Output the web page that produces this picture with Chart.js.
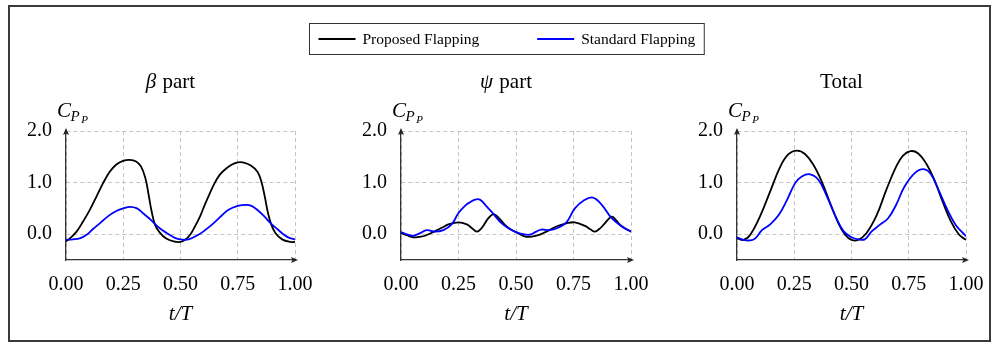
<!DOCTYPE html>
<html>
<head>
<meta charset="utf-8">
<script src="https://cdn.jsdelivr.net/npm/chart.js@4/dist/chart.umd.min.js"></script>
<style>
html,body{margin:0;padding:0;background:#fff;}
#wrap{position:relative;width:992px;height:342px;overflow:hidden;background:#fff;}
#wrap canvas{position:absolute;left:0;top:0;}
#frame{position:absolute;left:8px;top:5px;width:983px;height:337px;box-sizing:border-box;border:2px solid #3a3a3a;}
</style>
</head>
<body>
<div id="wrap">
  <div id="frame"></div>
  <canvas id="c1" width="992" height="342"></canvas>
  <canvas id="c2" width="992" height="342"></canvas>
  <canvas id="c3" width="992" height="342"></canvas>
</div>
<script>
// ---------- data ----------
const seriesNames = ['Proposed Flapping', 'Standard Flapping'];
const seriesColors = ['#000000', '#0000ff'];
const panelTitles = ['β part', 'ψ part', 'Total'];
const xAxisLabel = 't/T';
const yAxisLabelParts = ['C', 'P', 'P'];
const xTickValues = [0, 0.25, 0.5, 0.75, 1];
const xTickLabels = ['0.00', '0.25', '0.50', '0.75', '1.00'];
const yTickValues = [0, 1, 2];
const yTickLabels = ['0.0', '1.0', '2.0'];

// beta part
const betaProposedT = [0, 0.017, 0.046, 0.075, 0.104, 0.133, 0.162, 0.191, 0.22, 0.249, 0.277, 0.306, 0.328, 0.347, 0.361, 0.374, 0.389, 0.408, 0.436, 0.47, 0.5, 0.52, 0.542, 0.563, 0.585, 0.606, 0.628, 0.649, 0.671, 0.693, 0.721, 0.75, 0.772, 0.807, 0.836, 0.853, 0.868, 0.882, 0.897, 0.915, 0.944, 0.98, 1.0];
const betaProposedY = [-0.14, -0.08, 0.05, 0.25, 0.47, 0.73, 0.99, 1.21, 1.35, 1.42, 1.44, 1.41, 1.31, 1.08, 0.76, 0.44, 0.18, 0.04, -0.08, -0.14, -0.15, -0.11, -0.01, 0.15, 0.34, 0.57, 0.79, 0.99, 1.15, 1.25, 1.34, 1.39, 1.39, 1.33, 1.21, 1.02, 0.73, 0.41, 0.18, 0.02, -0.10, -0.15, -0.15];
const betaStandardT = [0, 0.03, 0.06, 0.09, 0.118, 0.15, 0.19, 0.22, 0.25, 0.28, 0.31, 0.335, 0.365, 0.393, 0.42, 0.451, 0.475, 0.5, 0.535, 0.578, 0.605, 0.636, 0.67, 0.708, 0.75, 0.787, 0.81, 0.836, 0.865, 0.894, 0.925, 0.952, 0.975, 1.0];
const betaStandardY = [-0.11, -0.10, -0.08, -0.01, 0.10, 0.22, 0.37, 0.45, 0.50, 0.53, 0.50, 0.41, 0.30, 0.18, 0.08, -0.01, -0.07, -0.10, -0.10, -0.01, 0.07, 0.18, 0.32, 0.47, 0.55, 0.57, 0.55, 0.47, 0.35, 0.21, 0.09, -0.01, -0.07, -0.10];

// psi part
const psiProposedT = [0, 0.025, 0.054, 0.08, 0.104, 0.148, 0.18, 0.206, 0.25, 0.286, 0.31, 0.33, 0.351, 0.38, 0.402, 0.424, 0.452, 0.474, 0.5, 0.545, 0.588, 0.632, 0.675, 0.719, 0.756, 0.8, 0.825, 0.843, 0.862, 0.88, 0.916, 0.935, 0.953, 0.975, 1.0];
const psiProposedY = [0.02, -0.02, -0.06, -0.05, -0.03, 0.06, 0.13, 0.19, 0.23, 0.19, 0.11, 0.05, 0.12, 0.31, 0.39, 0.32, 0.18, 0.10, 0.04, -0.05, -0.03, 0.05, 0.15, 0.21, 0.23, 0.16, 0.09, 0.05, 0.10, 0.18, 0.34, 0.27, 0.18, 0.11, 0.05];
const psiStandardT = [0, 0.03, 0.054, 0.083, 0.112, 0.148, 0.184, 0.22, 0.25, 0.278, 0.3, 0.322, 0.343, 0.372, 0.402, 0.438, 0.474, 0.5, 0.53, 0.56, 0.588, 0.61, 0.646, 0.68, 0.719, 0.756, 0.793, 0.834, 0.873, 0.916, 0.96, 1.0];
const psiStandardY = [0.04, -0.01, -0.03, 0.02, 0.08, 0.05, 0.08, 0.19, 0.41, 0.55, 0.62, 0.67, 0.67, 0.54, 0.39, 0.21, 0.10, 0.04, 0.0, -0.01, 0.05, 0.09, 0.08, 0.12, 0.23, 0.50, 0.65, 0.71, 0.57, 0.31, 0.15, 0.05];

// total
const totalProposedT = [0, 0.029, 0.058, 0.1, 0.145, 0.189, 0.225, 0.262, 0.298, 0.334, 0.37, 0.407, 0.443, 0.472, 0.5, 0.529, 0.565, 0.61, 0.652, 0.695, 0.724, 0.757, 0.79, 0.826, 0.862, 0.898, 0.934, 0.97, 1.0];
const totalProposedY = [-0.08, -0.11, -0.01, 0.34, 0.83, 1.31, 1.55, 1.62, 1.55, 1.34, 1.02, 0.60, 0.21, -0.01, -0.11, -0.11, 0.02, 0.37, 0.86, 1.31, 1.52, 1.61, 1.57, 1.37, 1.05, 0.63, 0.25, -0.01, -0.11];
const totalStandardT = [0, 0.029, 0.058, 0.08, 0.109, 0.145, 0.182, 0.218, 0.254, 0.283, 0.32, 0.356, 0.392, 0.43, 0.465, 0.5, 0.529, 0.558, 0.587, 0.623, 0.66, 0.695, 0.731, 0.775, 0.815, 0.847, 0.883, 0.919, 0.955, 1.0];
const totalStandardY = [-0.06, -0.11, -0.12, -0.08, 0.08, 0.19, 0.37, 0.66, 0.99, 1.12, 1.16, 1.05, 0.74, 0.35, 0.06, -0.06, -0.10, -0.10, 0.05, 0.18, 0.31, 0.57, 0.92, 1.18, 1.26, 1.16, 0.83, 0.47, 0.18, -0.04];

// ---------- rendering ----------
const FAMILY = '"Liberation Serif", "Times New Roman", serif';
Chart.defaults.font.family = FAMILY;
Chart.defaults.color = '#000';

function lookup(values, labels, v) {
  const i = values.findIndex(t => Math.abs(t - v) < 1e-9);
  return i >= 0 ? labels[i] : null;
}
function pts(T, Y) { return T.map((t, i) => ({x: t, y: Y[i]})); }

function drawTitle(ctx, text, cx, cy) {
  const greek = /^[α-ωΑ-Ω]/.test(text);
  const head = greek ? text[0] : '';
  const rest = greek ? text.slice(1) : text;
  ctx.textBaseline = 'alphabetic';
  ctx.textAlign = 'left';
  ctx.font = 'italic 21px ' + FAMILY;
  const w1 = head ? ctx.measureText(head).width + 1 : 0;
  ctx.font = '21px ' + FAMILY;
  const w2 = ctx.measureText(rest).width;
  let x = cx - (w1 + w2) / 2;
  if (head) { ctx.font = 'italic 21px ' + FAMILY; ctx.fillText(head, x, cy); x += w1; }
  ctx.font = '21px ' + FAMILY;
  ctx.fillText(rest, x, cy);
}

function decorPlugin(idx, withLegend) {
  return {
    id: 'decor' + idx,
    afterDraw(chart) {
      const {ctx, chartArea: a} = chart;
      ctx.save();
      ctx.fillStyle = '#222';
      // arrow on y axis
      ctx.beginPath();
      ctx.moveTo(a.left, a.top - 3);
      ctx.lineTo(a.left - 3, a.top + 4);
      ctx.lineTo(a.left, a.top + 2.5);
      ctx.lineTo(a.left + 3, a.top + 4);
      ctx.closePath();
      ctx.fill();
      // arrow on x axis
      ctx.beginPath();
      ctx.moveTo(a.right + 3, a.bottom);
      ctx.lineTo(a.right - 4, a.bottom - 3);
      ctx.lineTo(a.right - 2.5, a.bottom);
      ctx.lineTo(a.right - 4, a.bottom + 3);
      ctx.closePath();
      ctx.fill();
      // title
      ctx.fillStyle = '#000';
      drawTitle(ctx, panelTitles[idx], (a.left + a.right) / 2 - 10, 88);
      // y axis label C_{P_P}
      ctx.textAlign = 'left';
      ctx.textBaseline = 'alphabetic';
      let x = a.left - 9;
      ctx.font = 'italic 21px ' + FAMILY;
      ctx.fillText(yAxisLabelParts[0], x, 117);
      x += ctx.measureText(yAxisLabelParts[0]).width - 0.5;
      ctx.font = 'italic 15px ' + FAMILY;
      ctx.fillText(yAxisLabelParts[1], x, 120.5);
      x += ctx.measureText(yAxisLabelParts[1]).width + 1.5;
      ctx.font = 'italic 11px ' + FAMILY;
      ctx.fillText(yAxisLabelParts[2], x, 123);
      // legend
      if (withLegend) {
        const ds = chart.data.datasets;
        ctx.font = '15.5px ' + FAMILY;
        const lineLen = 37, gap = 7, itemGap = 58, margin = 9;
        const widths = ds.map(d => ctx.measureText(d.label).width);
        let inner = 0;
        widths.forEach((w, i) => { inner += lineLen + gap + w + (i < widths.length - 1 ? itemGap : 0); });
        const boxW = inner + 2 * margin;
        const cx = (a.left + a.right) / 2 - 10;
        const x0 = Math.round(cx - boxW / 2) + 0.5;
        const y0 = 23.5, h = 31;
        ctx.strokeStyle = '#333';
        ctx.lineWidth = 1;
        ctx.strokeRect(x0, y0, boxW, h);
        let lx = x0 + margin;
        const ly = y0 + h / 2;
        ctx.textBaseline = 'middle';
        ds.forEach((d, i) => {
          ctx.strokeStyle = d.borderColor;
          ctx.lineWidth = 1.8;
          ctx.beginPath();
          ctx.moveTo(lx, ly);
          ctx.lineTo(lx + lineLen, ly);
          ctx.stroke();
          ctx.fillStyle = '#000';
          ctx.fillText(d.label, lx + lineLen + gap, ly + 1);
          lx += lineLen + gap + widths[i] + itemGap;
        });
      }
      ctx.restore();
    }
  };
}

function makePanel(id, idx, proposed, standard, padL, padR, withLegend) {
  const tickFont = {size: 20, family: FAMILY};
  const lineStyle = {borderWidth: 1.8, pointRadius: 0, tension: 0.4, fill: false};
  return new Chart(document.getElementById(id), {
    type: 'line',
    data: {
      datasets: [
        Object.assign({label: seriesNames[0], data: pts(proposed[0], proposed[1]), borderColor: seriesColors[0], backgroundColor: seriesColors[0], order: 1}, lineStyle),
        Object.assign({label: seriesNames[1], data: pts(standard[0], standard[1]), borderColor: seriesColors[1], backgroundColor: seriesColors[1], order: 0}, lineStyle)
      ]
    },
    options: {
      responsive: false,
      animation: false,
      devicePixelRatio: 1,
      events: [],
      layout: {padding: {left: padL, right: padR, top: 131, bottom: 0}},
      plugins: {legend: {display: false}, tooltip: {enabled: false}, title: {display: false}},
      scales: {
        x: {
          type: 'linear', min: 0, max: 1,
          afterBuildTicks: s => { s.ticks = xTickValues.map(v => ({value: v})); },
          afterFit: s => { s.height = 82; s.paddingLeft = 0; s.paddingRight = 0; },
          ticks: {callback: v => lookup(xTickValues, xTickLabels, v), padding: 13, maxRotation: 0, autoSkip: false, color: '#000', font: tickFont},
          grid: {color: '#c4c4c4', lineWidth: 1, drawTicks: false},
          border: {display: true, color: '#333', width: 1.3, dash: [4, 3]},
          title: {display: true, text: xAxisLabel, color: '#000', font: {size: 21, style: 'italic', family: FAMILY}, padding: {top: 0, bottom: 15}}
        },
        y: {
          type: 'linear', min: -0.5, max: 2,
          afterBuildTicks: s => { s.ticks = yTickValues.map(v => ({value: v})); },
          afterFit: s => { s.width = 40; s.paddingTop = 0; s.paddingBottom = 0; },
          ticks: {callback: v => lookup(yTickValues, yTickLabels, v), padding: 14, color: '#000', font: tickFont},
          grid: {color: '#c4c4c4', lineWidth: 1, drawTicks: false},
          border: {display: true, color: '#333', width: 1.3, dash: [4, 3]}
        }
      }
    },
    plugins: [decorPlugin(idx, withLegend)]
  });
}

makePanel('c1', 0, [betaProposedT, betaProposedY], [betaStandardT, betaStandardY], 26, 697, false);
makePanel('c2', 1, [psiProposedT, psiProposedY], [psiStandardT, psiStandardY], 361, 361, true);
makePanel('c3', 2, [totalProposedT, totalProposedY], [totalStandardT, totalStandardY], 697, 26, false);
</script>
</body>
</html>
